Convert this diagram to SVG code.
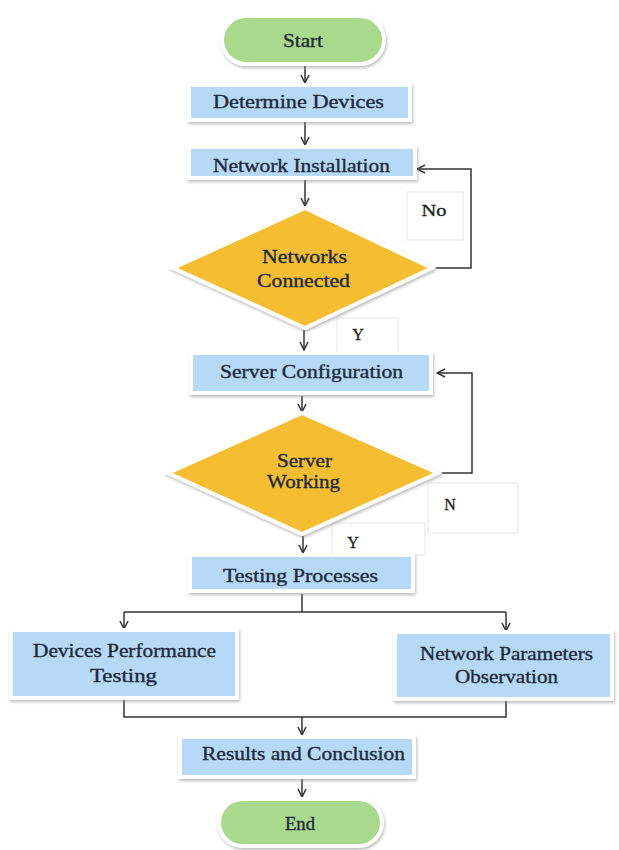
<svg xmlns="http://www.w3.org/2000/svg" width="619" height="850" viewBox="0 0 619 850">
<defs>
<filter id="sh" x="-10%" y="-10%" width="120%" height="130%">
<feDropShadow dx="1" dy="2" stdDeviation="1.5" flood-color="#888" flood-opacity="0.55"/>
</filter>
<marker id="arr" viewBox="0 0 10 10" refX="9" refY="5" markerWidth="10" markerHeight="10" markerUnits="userSpaceOnUse" orient="auto">
<path d="M1,1 L9,5 L1,9" fill="none" stroke="#333" stroke-width="1.5"/>
</marker>
<style>
.box{fill:#B6D9F7;stroke:#fff;stroke-width:4;filter:url(#sh)}
.pill{fill:#A9D98C;stroke:#fff;stroke-width:4;filter:url(#sh)}
.dia{fill:#F5BD33;stroke:#fff;stroke-width:4;filter:url(#sh)}
.lbl{fill:#fff;stroke:#e4e4e4;stroke-width:1}
.t{font-family:"Liberation Serif","Times New Roman",serif;font-size:18px;fill:#1E2A3A;stroke:#1E2A3A;stroke-width:0.35;text-anchor:middle}
.lt{font-family:"Liberation Serif","Times New Roman",serif;font-size:16px;fill:#222;stroke:#222;stroke-width:0.3;text-anchor:middle}
.c{fill:none;stroke:#333;stroke-width:1.5}
.a{marker-end:url(#arr)}
</style>
</defs>
<rect width="619" height="850" fill="#fff"/>
<g id="labels">
<g id="lbl-no"><rect class="lbl" x="407" y="192" width="56" height="48"/><text class="lt" x="434" y="216" textLength="25" lengthAdjust="spacingAndGlyphs">No</text></g>
<g id="lbl-y1"><rect class="lbl" x="337" y="318" width="61" height="34"/><text class="lt" x="358" y="340">Y</text></g>
<g id="lbl-n"><rect class="lbl" x="428" y="483" width="90" height="50"/><text class="lt" x="450" y="510">N</text></g>
<g id="lbl-y2"><rect class="lbl" x="332" y="523" width="93" height="32"/><text class="lt" x="353" y="548">Y</text></g>
</g>
<g id="connectors">
<path class="c a" d="M305,65 V83"/>
<path class="c a" d="M305,121 V145"/>
<path class="c a" d="M305,180 V206"/>
<path class="c a" d="M432,268 H471 V169 H417"/>
<path class="c a" d="M304,330 V350"/>
<path class="c a" d="M302,396 V412"/>
<path class="c a" d="M438,473 H472 V373 H437"/>
<path class="c a" d="M303,536 V553"/>
<path class="c" d="M302,594 V612"/>
<path class="c" d="M124,612 H506"/>
<path class="c a" d="M124,612 V629"/>
<path class="c a" d="M506,612 V631"/>
<path class="c" d="M124,700 V717 H506 V701"/>
<path class="c a" d="M302,717 V735"/>
<path class="c a" d="M302,779 V797"/>
</g>
<g id="start"><rect class="pill" x="222" y="16" width="162" height="48" rx="24"/><text class="t" x="303" y="47" textLength="40" lengthAdjust="spacingAndGlyphs">Start</text></g>
<g id="determine"><rect class="box" x="189" y="85" width="221" height="35"/><text class="t" x="298.5" y="108" textLength="171" lengthAdjust="spacingAndGlyphs">Determine Devices</text></g>
<g id="install"><rect class="box" x="189" y="147" width="226" height="31"/><text class="t" x="301.5" y="172" textLength="177" lengthAdjust="spacingAndGlyphs">Network Installation</text></g>
<g id="connected"><polygon class="dia" points="305,208 432,268 305,328 173,268"/><text class="t" x="304.5" y="263" textLength="85" lengthAdjust="spacingAndGlyphs">Networks</text><text class="t" x="303.5" y="287" textLength="93" lengthAdjust="spacingAndGlyphs">Connected</text></g>
<g id="server-config"><rect class="box" x="191" y="353" width="240" height="40"/><text class="t" x="311.5" y="378" textLength="183" lengthAdjust="spacingAndGlyphs">Server Configuration</text></g>
<g id="server-working"><polygon class="dia" points="302,413 438,473 302,534 168,473"/><text class="t" x="304.5" y="467" textLength="55" lengthAdjust="spacingAndGlyphs">Server</text><text class="t" x="303.5" y="488" textLength="73" lengthAdjust="spacingAndGlyphs">Working</text></g>
<g id="testing"><rect class="box" x="190" y="555" width="223" height="36"/><text class="t" x="300.5" y="582" textLength="155" lengthAdjust="spacingAndGlyphs">Testing Processes</text></g>
<g id="devices-perf"><rect class="box" x="11" y="630" width="226" height="68"/><text class="t" x="124.5" y="657" textLength="183" lengthAdjust="spacingAndGlyphs">Devices Performance</text><text class="t" x="123.5" y="682" textLength="67" lengthAdjust="spacingAndGlyphs">Testing</text></g>
<g id="net-params"><rect class="box" x="395" y="632" width="217" height="67"/><text class="t" x="506.5" y="660" textLength="173" lengthAdjust="spacingAndGlyphs">Network Parameters</text><text class="t" x="506.5" y="683" textLength="103" lengthAdjust="spacingAndGlyphs">Observation</text></g>
<g id="results"><rect class="box" x="180" y="737" width="234" height="40"/><text class="t" x="303.5" y="760" textLength="203" lengthAdjust="spacingAndGlyphs">Results and Conclusion</text></g>
<g id="end"><rect class="pill" x="219" y="799" width="163" height="47" rx="23.5"/><text class="t" x="300" y="830" textLength="30" lengthAdjust="spacingAndGlyphs">End</text></g>
</svg>
